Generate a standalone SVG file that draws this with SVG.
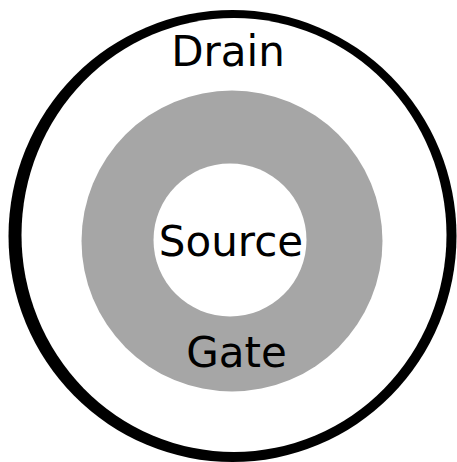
<svg xmlns="http://www.w3.org/2000/svg" width="457" height="462" viewBox="0 0 457 462">
  <style>
    .label { font-family: "DejaVu Sans", "Liberation Sans", sans-serif; font-size: 42px; fill: #000; text-anchor: middle; }
  </style>
  <rect width="457" height="462" fill="#fff"/>
  <!-- drain: outer ring -->
  <g id="drain">
    <ellipse cx="232.5" cy="236" rx="224" ry="226" fill="#000"/>
    <ellipse cx="234" cy="235" rx="212.5" ry="217" fill="#fff"/>
    <text class="label" x="228" y="66">Drain</text>
  </g>
  <!-- gate: grey annulus -->
  <g id="gate">
    <circle cx="232" cy="241" r="150.5" fill="#a6a6a6"/>
    <text class="label" x="236.5" y="367">Gate</text>
  </g>
  <!-- source: inner disc -->
  <g id="source">
    <circle cx="230" cy="240" r="76.5" fill="#fff"/>
    <text class="label" x="231" y="256">Source</text>
  </g>
</svg>
